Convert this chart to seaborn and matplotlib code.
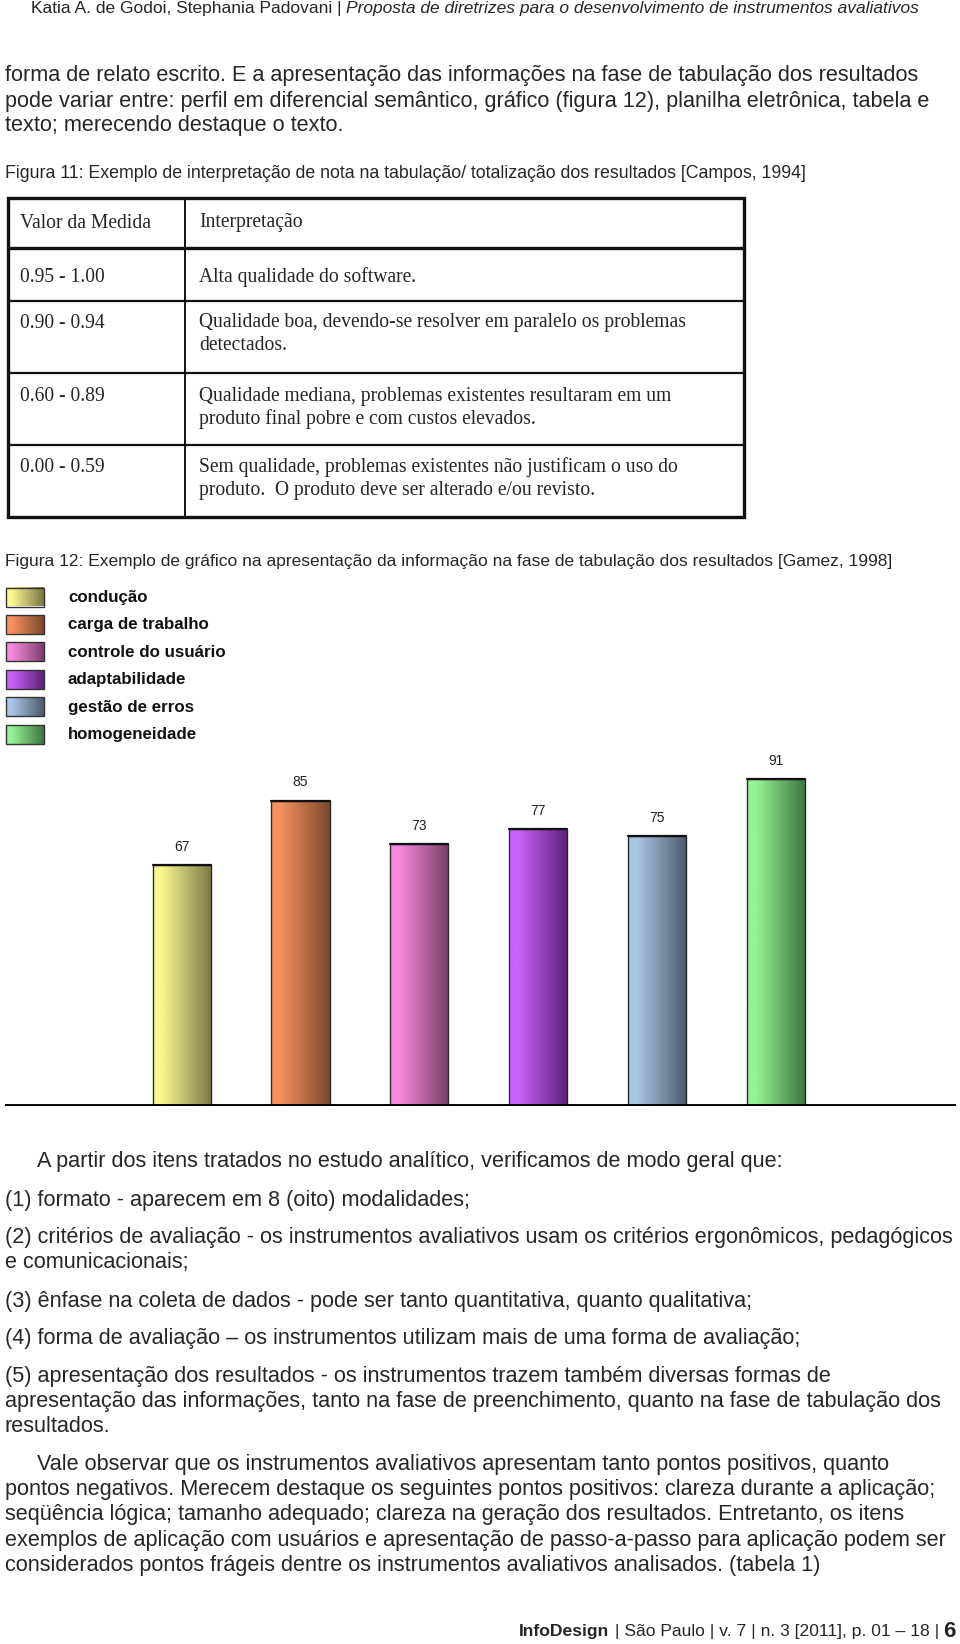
import numpy as np
import pandas as pd
import seaborn as sns
import matplotlib.pyplot as plt
from matplotlib.colors import LinearSegmentedColormap
from matplotlib.patches import Rectangle

# chart data (Figura 12)
categories = ["condução", "carga de trabalho", "controle do usuário",
              "adaptabilidade", "gestão de erros", "homogeneidade"]
scores = [67, 85, 73, 77, 75, 91]
light = ["#f8f88e", "#f8905e", "#f889dd", "#c862f8", "#aac4e6", "#93f393"]
dark = ["#7b7845", "#7c4a2c", "#7b3f6a", "#5e2078", "#4e5c6b", "#3f7440"]

# table data (Figura 11)
table_header = ["Valor da Medida", "Interpretação"]
table_ranges = ["0.95 - 1.00", "0.90 - 0.94", "0.60 - 0.89", "0.00 - 0.59"]
table_text = [
    ["Alta qualidade do software."],
    ["Qualidade boa, devendo-se resolver em paralelo os problemas", "detectados."],
    ["Qualidade mediana, problemas existentes resultaram em um",
     "produto final pobre e com custos elevados."],
    ["Sem qualidade, problemas existentes não justificam o uso do",
     "produto.  O produto deve ser alterado e/ou revisto."],
]

header_left = "Katia A. de Godoi, Stephania Padovani | "
header_right = "Proposta de diretrizes para o desenvolvimento de instrumentos avaliativos"

para_top = [
    "forma de relato escrito. E a apresentação das informações na fase de tabulação dos resultados",
    "pode variar entre: perfil em diferencial semântico, gráfico (figura 12), planilha eletrônica, tabela e",
    "texto; merecendo destaque o texto.",
]
caption11 = "Figura 11: Exemplo de interpretação de nota na tabulação/ totalização dos resultados [Campos, 1994]"
caption12 = "Figura 12: Exemplo de gráfico na apresentação da informação na fase de tabulação dos resultados [Gamez, 1998]"

# (text, indented, y)
para_bottom = [
    ("A partir dos itens tratados no estudo analítico, verificamos de modo geral que:", True, 1161),
    ("(1) formato - aparecem em 8 (oito) modalidades;", False, 1200),
    ("(2) critérios de avaliação - os instrumentos avaliativos usam os critérios ergonômicos, pedagógicos", False, 1237),
    ("e comunicacionais;", False, 1262),
    ("(3) ênfase na coleta de dados - pode ser tanto quantitativa, quanto qualitativa;", False, 1301),
    ("(4) forma de avaliação – os instrumentos utilizam mais de uma forma de avaliação;", False, 1338),
    ("(5) apresentação dos resultados - os instrumentos trazem também diversas formas de", False, 1376),
    ("apresentação das informações, tanto na fase de preenchimento, quanto na fase de tabulação dos", False, 1401),
    ("resultados.", False, 1426),
    ("Vale observar que os instrumentos avaliativos apresentam tanto pontos positivos, quanto", True, 1464),
    ("pontos negativos. Merecem destaque os seguintes pontos positivos: clareza durante a aplicação;", False, 1489),
    ("seqüência lógica; tamanho adequado; clareza na geração dos resultados. Entretanto, os itens", False, 1514),
    ("exemplos de aplicação com usuários e apresentação de passo-a-passo para aplicação podem ser", False, 1540),
    ("considerados pontos frágeis dentre os instrumentos avaliativos analisados. (tabela 1)", False, 1565),
]

footer_parts = ["InfoDesign", " | São Paulo | v. 7 | n. 3 [2011], p. 01 – 18 | ", "6"]

sns.set_theme(style="white")
plt.rcParams["font.family"] = ["Liberation Sans", "DejaVu Sans"]

W, H = 960, 1644
fig = plt.figure(figsize=(W / 100, H / 100), dpi=100)
fig.patch.set_facecolor("white")

# page overlay in pixel units
page = fig.add_axes([0, 0, 1, 1])
page.set_xlim(0, W)
page.set_ylim(H, 0)
page.axis("off")
page.patch.set_alpha(0)

body_size = 15.6
renderer = fig.canvas.get_renderer()

# running header
t = page.text(31, 9, header_left, fontsize=12.5, va="center", ha="left")
bb = t.get_window_extent(renderer)
page.text(31 + bb.width, 9, header_right, fontsize=12.5, style="italic",
          va="center", ha="left")

for i, line in enumerate(para_top):
    page.text(5, [75, 101, 126][i], line, fontsize=body_size, va="center")

page.text(5, 174, caption11, fontsize=12.8, va="center")

# table (Figura 11)
tl, tr, tt, tb, tc = 8, 744, 198, 517, 185
row_lines = [248, 301, 373, 445]
page.add_patch(Rectangle((tl, tt), tr - tl, tb - tt, fill=False, lw=2.4,
                         ec="#111111"))
for k, yy in enumerate(row_lines):
    page.plot([tl, tr], [yy, yy], color="#111111", lw=2.4 if k == 0 else 1.6)
page.plot([tc, tc], [tt, tb], color="#111111", lw=1.4)

serif = ["Liberation Serif", "DejaVu Serif"]
tsize = 14.1
page.text(20, 223, table_header[0], family=serif, fontsize=tsize, va="center")
page.text(199, 223, table_header[1], family=serif, fontsize=tsize, va="center")
first_y = [277, 323, 396, 467]
for rng, lines, y0 in zip(table_ranges, table_text, first_y):
    page.text(20, y0, rng, family=serif, fontsize=tsize, va="center")
    for j, ln in enumerate(lines):
        page.text(199, y0 + j * 23, ln, family=serif, fontsize=tsize, va="center")

page.text(5, 561, caption12, fontsize=12.5, va="center")

# legend with gradient swatches
grad = np.linspace(0, 1, 64).reshape(1, -1)
cmaps = [LinearSegmentedColormap.from_list(
    f"g{i}", [(0, light[i]), (0.15, light[i]), (1, dark[i])])
    for i in range(len(categories))]
for i, name in enumerate(categories):
    yc = 597 + i * 27.5
    page.imshow(grad, extent=[6, 44, yc + 9.5, yc - 9.5], cmap=cmaps[i],
                aspect="auto", zorder=2)
    page.add_patch(Rectangle((6, yc - 9.5), 38, 19, fill=False, lw=1,
                             ec="#333333", zorder=3))
    page.text(68, yc, name, fontsize=12.2, fontweight="bold", va="center",
              color="#111111")
page.set_xlim(0, W)
page.set_ylim(H, 0)

# bar chart (Figura 12)
base_px = 1106
ax = fig.add_axes([5 / W, (H - base_px) / H, (956 - 5) / W, 359.4 / H])
ax.patch.set_alpha(0)
df = pd.DataFrame({"criterio": categories, "nota": scores})
sns.barplot(data=df, x="criterio", y="nota", hue="criterio", palette=light,
            dodge=False, width=0.49, legend=False, ax=ax)

for i, patch in enumerate(ax.patches):
    x0, y0 = patch.get_x(), patch.get_y()
    w, h = patch.get_width(), patch.get_height()
    im = ax.imshow(grad, extent=[x0, x0 + w, y0, y0 + h], cmap=cmaps[i],
                   aspect="auto", zorder=2)
    im.set_clip_path(patch)
    patch.set_facecolor("none")
    patch.set_edgecolor("#2a2a2a")
    patch.set_linewidth(1.0)
    patch.set_zorder(3)
    ax.plot([x0, x0 + w], [y0 + h, y0 + h], color="#111111", lw=1.6, zorder=4)

for c in ax.containers:
    ax.bar_label(c, padding=8, fontsize=10, color="#222222")

ax.axhline(0, color="black", lw=2.8, zorder=5)
ax.set_xlim(-1.488, 6.517)
ax.set_ylim(0, 100)
ax.set_aspect("auto")
ax.axis("off")

for line, indented, yy in para_bottom:
    page.text(37 if indented else 5, yy, line, fontsize=body_size, va="center")

# footer, right aligned
x_right = 956
yf = 1631
t6 = page.text(x_right, yf, footer_parts[2], fontsize=16, fontweight="bold",
               ha="right", va="center")
w6 = t6.get_window_extent(renderer).width
tm = page.text(x_right - w6, yf, footer_parts[1], fontsize=12.6, ha="right",
               va="center")
wm = tm.get_window_extent(renderer).width
page.text(x_right - w6 - wm, yf, footer_parts[0], fontsize=12.6,
          fontweight="bold", ha="right", va="center")

fig.savefig("out.png", dpi=100)
